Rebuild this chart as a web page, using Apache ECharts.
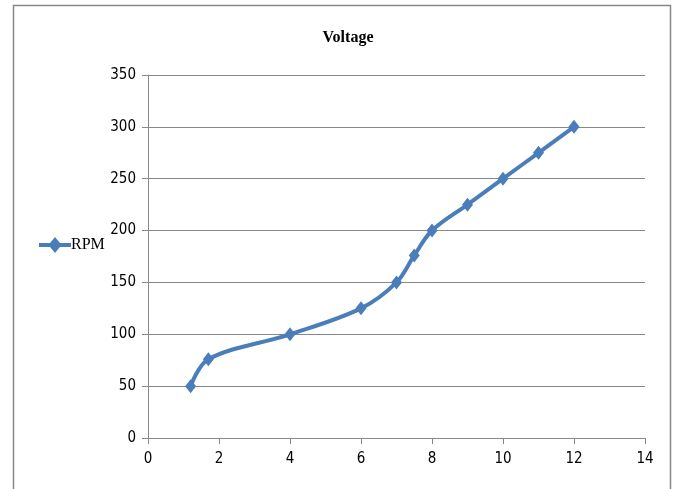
<!DOCTYPE html>
<html><head><meta charset="utf-8">
<script src="https://cdn.jsdelivr.net/npm/echarts@6/dist/echarts.min.js"></script>
<style>html,body{margin:0;padding:0;background:#fff}#c{width:677px;height:489px}</style>
</head><body><div id="c"></div>
<script>
const xValues = [1.2, 1.7, 4, 6, 7, 7.5, 8, 9, 10, 11, 12];
const rpmValues = [50, 76, 100, 125, 150, 176, 200, 225, 250, 275, 300];
const seriesName = 'RPM';
const titleText = 'Voltage';

const chart = echarts.init(document.getElementById('c'));
const labelFont = {fontFamily: '"Liberation Sans Narrow", "DejaVu Sans Condensed", sans-serif', fontSize: 15, color: '#000'};
chart.setOption({
  animation: false,
  graphic: [{type: 'rect', shape: {x: 13.5, y: 5.5, width: 657, height: 490}, style: {fill: 'none', stroke: '#888', lineWidth: 1.5}, silent: true}],
  title: {text: titleText, left: 343, top: 25, textAlign: 'center',
    textStyle: {fontFamily: '"Liberation Serif", serif', fontWeight: 'bold', fontSize: 16, color: '#000'}},
  legend: {left: 34, top: 232, orient: 'vertical', itemWidth: 32, itemHeight: 16, itemGap: 4,
    textStyle: {fontFamily: '"Liberation Serif", serif', fontSize: 16, color: '#000', padding: [2,0,0,-5]},
    data: [{name: seriesName, icon: 'path://M0,6 L11,6 L16,0 L21,6 L32,6 L32,10 L21,10 L16,16 L11,10 L0,10 Z'}]},
  grid: {left: 148, right: 32, top: 75, bottom: 51, containLabel: false},
  xAxis: {type: 'value', min: 0, max: 14, interval: 2,
    axisLine: {show: true, lineStyle: {color: '#888', width: 1}},
    axisTick: {show: true, length: 6, lineStyle: {color: '#888'}},
    splitLine: {show: false},
    axisLabel: Object.assign({margin: 14}, labelFont)},
  yAxis: {type: 'value', min: 0, max: 350, interval: 50,
    axisLine: {show: true, lineStyle: {color: '#888', width: 1}},
    axisTick: {show: true, length: 6, lineStyle: {color: '#888'}},
    splitLine: {show: true, lineStyle: {color: '#888', width: 1}},
    axisLabel: Object.assign({margin: 12}, labelFont)},
  series: [{name: seriesName, type: 'line', smooth: 0.35,
    data: xValues.map((x, i) => [x, rpmValues[i]]),
    symbol: 'diamond', symbolSize: [11, 14],
    lineStyle: {color: '#4a7ebb', width: 4},
    itemStyle: {color: '#4a7ebb'}}]
});
</script></body></html>
